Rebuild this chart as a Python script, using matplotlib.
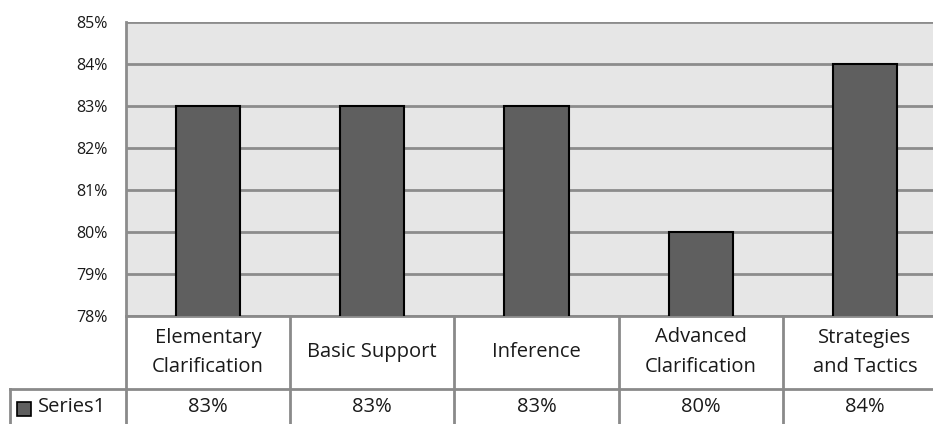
import matplotlib.pyplot as plt
import matplotlib.transforms as mtransforms
from matplotlib.patches import Rectangle

categories = ["Elementary\nClarification", "Basic Support", "Inference",
              "Advanced\nClarification", "Strategies\nand Tactics"]
values = [83, 83, 83, 80, 84]
series_name = "Series1"
yticks = [78, 79, 80, 81, 82, 83, 84, 85]

plt.rcParams['font.family'] = ['Open Sans', 'DejaVu Sans']

W, H = 933, 424
fig = plt.figure(figsize=(W / 100, H / 100), dpi=100)
# plot area runs off the right edge, like the original
ax = fig.add_axes([126 / W, 1 - 316 / H, (947 - 126) / W, (316 - 22) / H])

bar_col = "#5f5f5f"
grid_col = "#8c8c8c"
tab_col = "#8a8a8a"

x = range(len(values))
ax.bar(x, values, width=0.39, color=bar_col, edgecolor="black", linewidth=1.5, zorder=3)
ax.set_facecolor("#e6e6e6")
ax.set_xlim(-0.5, len(values) - 0.5)
ax.set_ylim(78, 85)
ax.set_yticks(yticks)
ax.set_yticklabels([f"{t}%" for t in yticks], fontsize=11.5, color="#1a1a1a")
ax.tick_params(axis="y", length=0, pad=13)
ax.set_xticks([])
ax.yaxis.grid(True, color=grid_col, linewidth=2)
ax.set_axisbelow(True)
for s in ["top", "right", "bottom"]:
    ax.spines[s].set_visible(False)
ax.spines["left"].set_color(grid_col)
ax.spines["left"].set_linewidth(2)

# data table below the plot
px = mtransforms.blended_transform_factory(ax.transData, fig.transFigure)
pix = fig.transFigure
def fy(p):
    return 1 - p / H

row1_top, row2_top, row2_bot = 316, 389, 430
for i in range(len(values) + 1):
    ax.plot([i - 0.5, i - 0.5], [fy(row1_top), fy(row2_bot)], transform=px,
            color=tab_col, lw=2, clip_on=False)
ax.plot([-0.5, len(values)], [fy(row1_top), fy(row1_top)], transform=px,
        color=tab_col, lw=2, clip_on=False)
fig.add_artist(plt.Line2D([10 / W, 1], [fy(row2_top), fy(row2_top)], color=tab_col, lw=2))
fig.add_artist(plt.Line2D([10 / W, 10 / W], [fy(row2_top), fy(row2_bot)], color=tab_col, lw=2))

for i, (c, v) in enumerate(zip(categories, values)):
    ax.text(i, fy(352), c, transform=px, ha="center", va="center",
            fontsize=14.5, linespacing=1.6, color="#1a1a1a")
    ax.text(i, fy(407), f"{v}%", transform=px, ha="center", va="center",
            fontsize=14.5, color="#1a1a1a")

fig.add_artist(Rectangle((17 / W, fy(416)), 14 / W, 14 / H, transform=pix,
                         facecolor=bar_col, edgecolor="black", lw=1.2))
fig.text(38 / W, fy(407), series_name, ha="left", va="center", fontsize=14.5,
         color="#1a1a1a")

fig.savefig("out.png", dpi=100)
